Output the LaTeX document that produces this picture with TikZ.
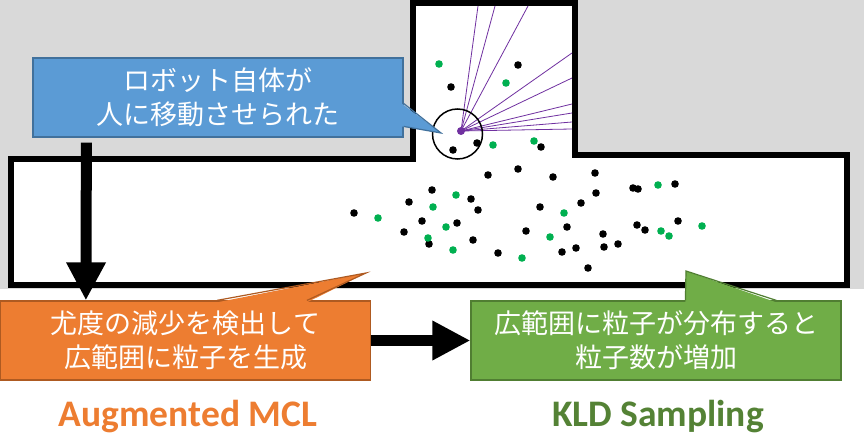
\documentclass[tikz,border=0pt]{standalone}
\usepackage{fontspec}
\setmainfont{Carlito}
\newfontfamily\jp{Noto Sans CJK JP}
\usetikzlibrary{arrows.meta,calc}
\definecolor{mapgray}{HTML}{D9D9D9}
\definecolor{pgreen}{HTML}{00B050}
\definecolor{rpurple}{HTML}{7030A0}
\definecolor{cblue}{HTML}{5B9BD5}
\definecolor{cblueline}{HTML}{41719C}
\definecolor{corange}{HTML}{ED7D31}
\definecolor{corangeline}{HTML}{AE5A21}
\definecolor{cgreen}{HTML}{70AD47}
\definecolor{cgreenline}{HTML}{507E32}
\definecolor{kldgreen}{HTML}{548235}

\begin{document}
\begin{tikzpicture}[x=1pt,y=-1pt,
        p/.style={fill=black},
        q/.style={fill=pgreen},
        ray/.style={draw=rpurple, line width=0.8pt},
        box/.style={minimum width=370pt, minimum height=79pt, inner sep=0pt,
                        line width=1.2pt, text=white, align=center,
                        font=\jp\fontsize{27}{34}\selectfont},
        lbl/.style={font=\bfseries\fontsize{37.5}{40}\selectfont},
        big/.style={line width=11pt, -{Triangle[length=38pt,width=37pt]}}]
    \useasboundingbox (0,0) rectangle (864,443);
    % map
    \fill[mapgray] (0,0) rectangle (864,289);
    \draw[fill=white, line width=6pt]
        (11,159) -- (413,159) -- (413,3) -- (575,3) -- (575,155) --
        (847,155) -- (847,285) -- (11,285) -- cycle;
    % robot and laser
    \coordinate (r) at (461,131);
    \foreach \x/\y in {478/6,495/6,528/6,572/53,572/78,572/104,572/113,572/122,572/129}
        \draw[ray] (r) -- (\x,\y);
    \draw[line width=1.5pt] (457.5,134) circle[radius=25pt];
    \fill[rpurple] (r) circle[radius=4pt];
    % particles
    \foreach \x/\y in {518/65,451/87,477/143,453/150,541/147,354/213,409/202,
        432/190,471/199,478/210,422/221,404/232,457/223,429/244,473/240,
        488/175,518/169,553/177,595/173,633/188,638/189,675/184,596/193,
        581/203,540/207,678/221,637/225,645/230,526/231,567/227,603/234,
        604/247,618/244,576/248,562/252,498/253,588/268}
        \fill[p] (\x,\y) circle[radius=3.8pt];
    \foreach \x/\y in {439/64,506/83,493/145,534/141,378/218,456/195,433/207,
        446/227,428/238,453/250,658/185,564/213,702/226,661/231,669/236,
        550/237,522/258}
        \fill[q] (\x,\y) circle[radius=3.8pt];
    % callouts
    \node[box, fill=cblue, draw=cblueline] (robo) at (218,97.5)
        {ロボット自体が\\人に移動させられた};
    \coordinate (t1) at (441,133);
    \fill[cblue] ($(robo.north east)+(-2,46)$) -- (t1) -- ($(robo.north east)+(-2,69)$) -- cycle;
    \draw[cblueline, line width=1.2pt] ($(robo.north east)+(0,46)$) -- (t1) -- ($(robo.north east)+(0,69)$);

    \node[box, fill=corange, draw=corangeline] (aug) at (185.5,340.5)
        {尤度の減少を検出して\\広範囲に粒子を生成};
    \coordinate (t2) at (366,273);
    \fill[corange] ($(aug.north west)+(217,2)$) -- (t2) -- ($(aug.north west)+(307,2)$) -- cycle;
    \draw[corangeline, line width=1.2pt] ($(aug.north west)+(217,0)$) -- (t2) -- ($(aug.north west)+(307,0)$);

    \node[box, fill=cgreen, draw=cgreenline] (kld) at (656,340.5)
        {広範囲に粒子が分布すると\\粒子数が増加};
    \coordinate (t3) at (686,271);
    \fill[cgreen] ($(kld.north west)+(215,2)$) -- (t3) -- ($(kld.north west)+(306,2)$) -- cycle;
    \draw[cgreenline, line width=1.2pt] ($(kld.north west)+(215,0)$) -- (t3) -- ($(kld.north west)+(306,0)$);
    % arrows
    \draw[big] ($(robo.south west)+(54,5)$) -- ($(aug.north west)+(86,0)$);
    \draw[big] (aug.east) -- (kld.west);
    % labels
    \node[lbl, text=corange] (augl) at (188,417) {Augmented MCL};
    \node[lbl, text=kldgreen] (kldl) at (658,417) {KLD Sampling};
\end{tikzpicture}
\end{document}
